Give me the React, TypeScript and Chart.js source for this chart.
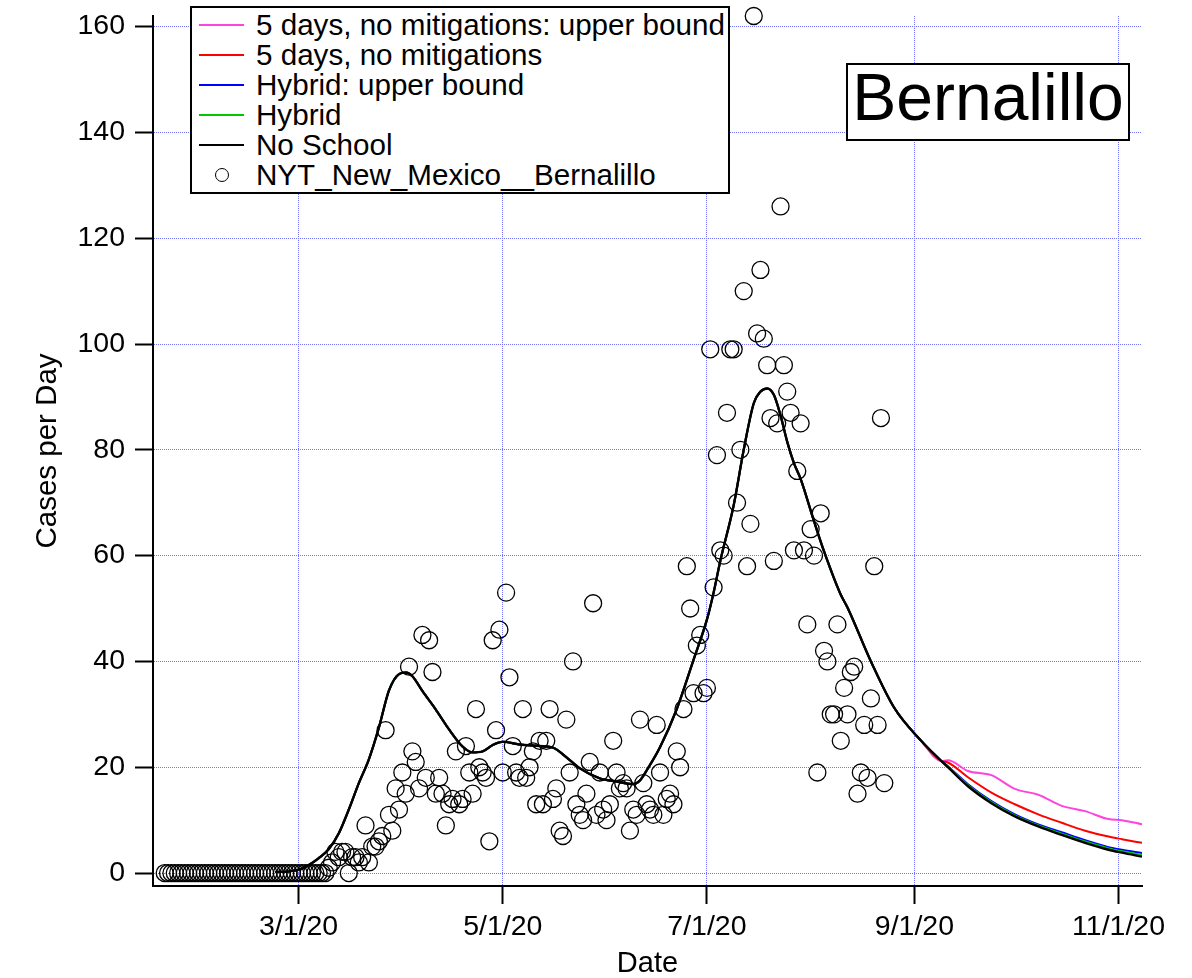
import React, { useEffect, useRef } from 'react';
import { Chart, registerables } from 'chart.js';

Chart.register(...registerables);

const FONT = '"Liberation Sans", Arial, Helvetica, sans-serif';

// ---- axis data ----
const xTickDates = ['2020-03-01', '2020-05-01', '2020-07-01', '2020-09-01', '2020-11-01'];
const xTickLabels = ['3/1/20', '5/1/20', '7/1/20', '9/1/20', '11/1/20'];
const yTickValues = [0, 20, 40, 60, 80, 100, 120, 140, 160];
const xRangeDays = [16.5, 312]; // days since 2020-01-01
const yRange = [-2.45, 162];

function dayOfYear(iso: string): number {
  const [y, m, d] = iso.split('-').map(Number);
  return (Date.UTC(y, m - 1, d) - Date.UTC(2020, 0, 1)) / 86400000;
}

// ---- observed daily cases (NYT, Bernalillo), one value per day from first date ----
const nytName = 'NYT_New_Mexico__Bernalillo';
const nytFirstDate = '2020-01-21';
const nytCases = [
  0, 0, 0, 0, 0, 0, 0, 0, 0, 0, 0, 0, 0, 0, 0, 0, 0, 0, 0, 0,
  0, 0, 0, 0, 0, 0, 0, 0, 0, 0, 0, 0, 0, 0, 0, 0, 0, 0, 0, 0,
  0, 0, 0, 0, 0, 0, 0, 0, 0,
  1, 2, 4, 3, 4, 4, 0, 3, 3, 2, 3, 9, 2, 5, 5, 6, 7, 27, 11, 8,
  16, 12, 19, 15, 39, 23, 21, 16, 45, 18, 44, 38, 15, 18, 15, 9, 13, 14, 23, 13,
  14, 24, 19, 15, 31, 20, 19, 18, 6, 44, 27, 46, 19, 53, 37, 24, 19, 18, 31, 18,
  20, 23, 13, 25, 13, 25, 31, 14, 16, 8, 7, 29, 19, 40, 13, 11, 10, 15, 21, 51,
  11, 19, 12, 10, 13, 25, 19, 16, 17, 16, 8, 12, 11, 29, 17, 13, 12, 11, 28, 19,
  11, 14, 15, 13, 23, 20, 31, 58, 50, 34, 43, 45, 34, 35, 99, 54, 79, 61, 60, 87,
  99, 99, 70, 80, 110, 58, 66, 162, 102, 114, 101, 96, 86, 59, 85, 126, 96, 91, 87, 61,
  76, 85, 61, 47, 65, 60, 19, 68, 42, 40, 30, 30, 47, 25, 35, 30, 38, 39, 15, 19,
  28, 18, 33, 58, 28, 86, 17,
];

// ---- model curves (shared part, day-of-year samples) ----
const modelDays = [
  53, 57, 60, 63, 66, 69, 72, 75, 78, 81, 84, 87, 90, 92, 94, 97, 101, 105, 109, 112,
  115, 118, 121, 126, 132, 136, 140, 144, 150, 155, 160, 162, 164, 168, 173, 178, 182, 184, 186, 190,
  193, 196, 198, 200, 202, 204, 206, 208, 210, 214, 217, 222, 224, 231, 238, 246, 252,
];
const modelShared = [
  0.2, 0.3, 0.6, 1.5, 2.8, 4.5, 7.5, 12, 17, 21.5, 27.5, 34.5, 37.6, 37.9, 37.2, 34.4, 30.9, 27.1, 23.9, 22.8,
  23, 24.2, 24.8, 24.3, 24, 23.7, 21.9, 19.8, 17.9, 17.3, 16.8, 17.5, 19.4, 23.8, 31, 40.3, 47.9, 53, 59, 69.5,
  80, 88.8, 91, 91.6, 90.4, 86.5, 81.5, 77.5, 74.5, 66.5, 60.8, 52.6, 50.2, 40, 31.2, 25, 21.2,
];

// ---- model curves after they split ----
const tailDays = [254, 260, 267, 274, 281, 288, 295, 302, 306, 312];
const tail5DaysUpper = [21.3, 19.3, 18.5, 15.9, 14.8, 12.7, 11.7, 10.2, 10.0, 9.2];
const tail5Days = [20.9, 18.1, 15.2, 13.0, 11.1, 9.5, 8.0, 6.9, 6.4, 5.7];
const tailHybridUpper = [20.2, 16.8, 13.6, 11.1, 9.2, 7.7, 6.2, 4.9, 4.4, 3.8];
const tailHybrid = [20.1, 16.6, 13.4, 10.9, 9.0, 7.45, 5.95, 4.65, 4.1, 3.4];
const tailNoSchool = [20.0, 16.4, 13.2, 10.7, 8.8, 7.2, 5.7, 4.4, 3.85, 3.1];

const seriesNames = [
  '5 days, no mitigations: upper bound',
  '5 days, no mitigations',
  'Hybrid: upper bound',
  'Hybrid',
  'No School',
];
const seriesColors = ['#ff44dd', '#ff0000', '#0000ff', '#00c800', '#000000'];
const seriesTails = [tail5DaysUpper, tail5Days, tailHybridUpper, tailHybrid, tailNoSchool];

const xTickDays = xTickDates.map(dayOfYear);

function Legend() {
  const rows = seriesNames.map((name, i) => (
    <div key={name} style={{ position: 'relative', height: 30 }}>
      <div
        style={{
          position: 'absolute',
          left: 7,
          top: 14,
          width: 45,
          height: 2,
          background: seriesColors[i],
        }}
      />
      <div
        style={{
          position: 'absolute',
          left: 64,
          top: 0,
          lineHeight: '30px',
          whiteSpace: 'nowrap',
        }}
      >
        {name}
      </div>
    </div>
  ));
  return (
    <div
      style={{
        position: 'absolute',
        left: 190,
        top: 6,
        width: 540,
        height: 188,
        boxSizing: 'border-box',
        border: '2px solid #000',
        background: '#fff',
        paddingTop: 2,
        fontFamily: FONT,
        fontSize: 29.6,
        color: '#000',
      }}
    >
      {rows}
      <div style={{ position: 'relative', height: 30 }}>
        <div
          style={{
            position: 'absolute',
            left: 23,
            top: 8,
            width: 14,
            height: 14,
            boxSizing: 'border-box',
            border: '1.5px solid #000',
            borderRadius: '50%',
          }}
        />
        <div
          style={{
            position: 'absolute',
            left: 64,
            top: 0,
            lineHeight: '30px',
            whiteSpace: 'nowrap',
          }}
        >
          {nytName}
        </div>
      </div>
    </div>
  );
}

export default function App() {
  const canvasRef = useRef<HTMLCanvasElement | null>(null);

  useEffect(() => {
    const canvas = canvasRef.current;
    if (!canvas) return;

    const nytStart = dayOfYear(nytFirstDate);
    const scatterData = nytCases.map((v, i) => ({ x: nytStart + i, y: v }));

    const lineDatasets = seriesNames.map((name, i) => ({
      type: 'line' as const,
      label: name,
      data: modelDays
        .map((d, j) => ({ x: d, y: modelShared[j] }))
        .concat(tailDays.map((d, j) => ({ x: d, y: seriesTails[i][j] }))),
      borderColor: seriesColors[i],
      backgroundColor: seriesColors[i],
      borderWidth: i === 4 ? 2.4 : 2,
      pointRadius: 0,
      fill: false,
      showLine: true,
      cubicInterpolationMode: 'monotone' as const,
      order: 5 - i,
    }));

    const zeroPad = (s: any) => {
      s.paddingLeft = 0;
      s.paddingRight = 0;
      s.paddingTop = 0;
      s.paddingBottom = 0;
    };

    const chart = new Chart(canvas, {
      type: 'scatter',
      data: {
        datasets: [
          ...lineDatasets,
          {
            type: 'scatter' as const,
            label: nytName,
            data: scatterData,
            pointRadius: 8.5,
            pointStyle: 'circle',
            borderColor: '#000',
            borderWidth: 1.3,
            backgroundColor: 'rgba(0,0,0,0)',
            clip: false as any,
            order: 0,
          } as any,
        ],
      },
      options: {
        responsive: false,
        animation: false,
        layout: { padding: { top: 16, right: 50, bottom: 0, left: 0 } },
        plugins: {
          legend: { display: false },
          tooltip: { enabled: false },
        },
        scales: {
          x: {
            type: 'linear',
            position: 'bottom',
            min: xRangeDays[0],
            max: xRangeDays[1],
            afterBuildTicks: (s: any) => {
              s.ticks = xTickDays.map((v) => ({ value: v }));
            },
            afterFit: (s: any) => {
              s.height = 92;
              zeroPad(s);
            },
            ticks: {
              autoSkip: false,
              maxRotation: 0,
              minRotation: 0,
              padding: 9,
              color: '#000',
              font: { family: FONT, size: 28.5, lineHeight: 1 },
              callback: (value: any) => {
                const idx = xTickDays.indexOf(Number(value));
                return idx >= 0 ? xTickLabels[idx] : '';
              },
            },
            grid: {
              color: '#7373ff',
              lineWidth: 1,
              tickLength: 18,
              tickColor: '#000',
              tickWidth: 2,
              tickBorderDash: [],
            } as any,
            border: { display: true, color: '#000', width: 2, dash: [1, 1] },
            title: {
              display: true,
              text: 'Date',
              color: '#000',
              font: { family: FONT, size: 29, lineHeight: 1 },
              padding: { top: 0, bottom: 0 },
            },
          },
          y: {
            type: 'linear',
            position: 'left',
            min: yRange[0],
            max: yRange[1],
            afterBuildTicks: (s: any) => {
              s.ticks = yTickValues.map((v) => ({ value: v }));
            },
            afterFit: (s: any) => {
              s.width = 153;
              zeroPad(s);
            },
            ticks: {
              padding: 10,
              color: '#000',
              font: { family: FONT, size: 28.5, lineHeight: 1 },
              callback: (value: any) => String(value),
            },
            grid: {
              color: '#7373ff',
              lineWidth: 1,
              tickLength: 18,
              tickColor: '#000',
              tickWidth: 2,
              tickBorderDash: [],
            } as any,
            border: { display: true, color: '#000', width: 2, dash: [1, 1] },
            title: {
              display: true,
              text: 'Cases per Day',
              color: '#000',
              font: { family: FONT, size: 29.5, lineHeight: 1 },
              padding: { top: 33.5, bottom: 0 },
            },
          },
        },
      } as any,
    });

    return () => {
      chart.destroy();
    };
  }, []);

  return (
    <div style={{ position: 'absolute', left: 0, top: 0, width: 1192, height: 978, background: '#fff' }}>
      <canvas
        ref={canvasRef}
        width={1192}
        height={978}
        style={{ display: 'block', width: 1192, height: 978 }}
      />
      <Legend />
      <div
        style={{
          position: 'absolute',
          left: 846,
          top: 63,
          width: 284,
          height: 78,
          boxSizing: 'border-box',
          border: '2px solid #000',
          background: '#fff',
          fontFamily: FONT,
          fontSize: 66,
          lineHeight: '65px',
          textAlign: 'center',
          color: '#000',
          whiteSpace: 'nowrap',
        }}
      >
        Bernalillo
      </div>
    </div>
  );
}
